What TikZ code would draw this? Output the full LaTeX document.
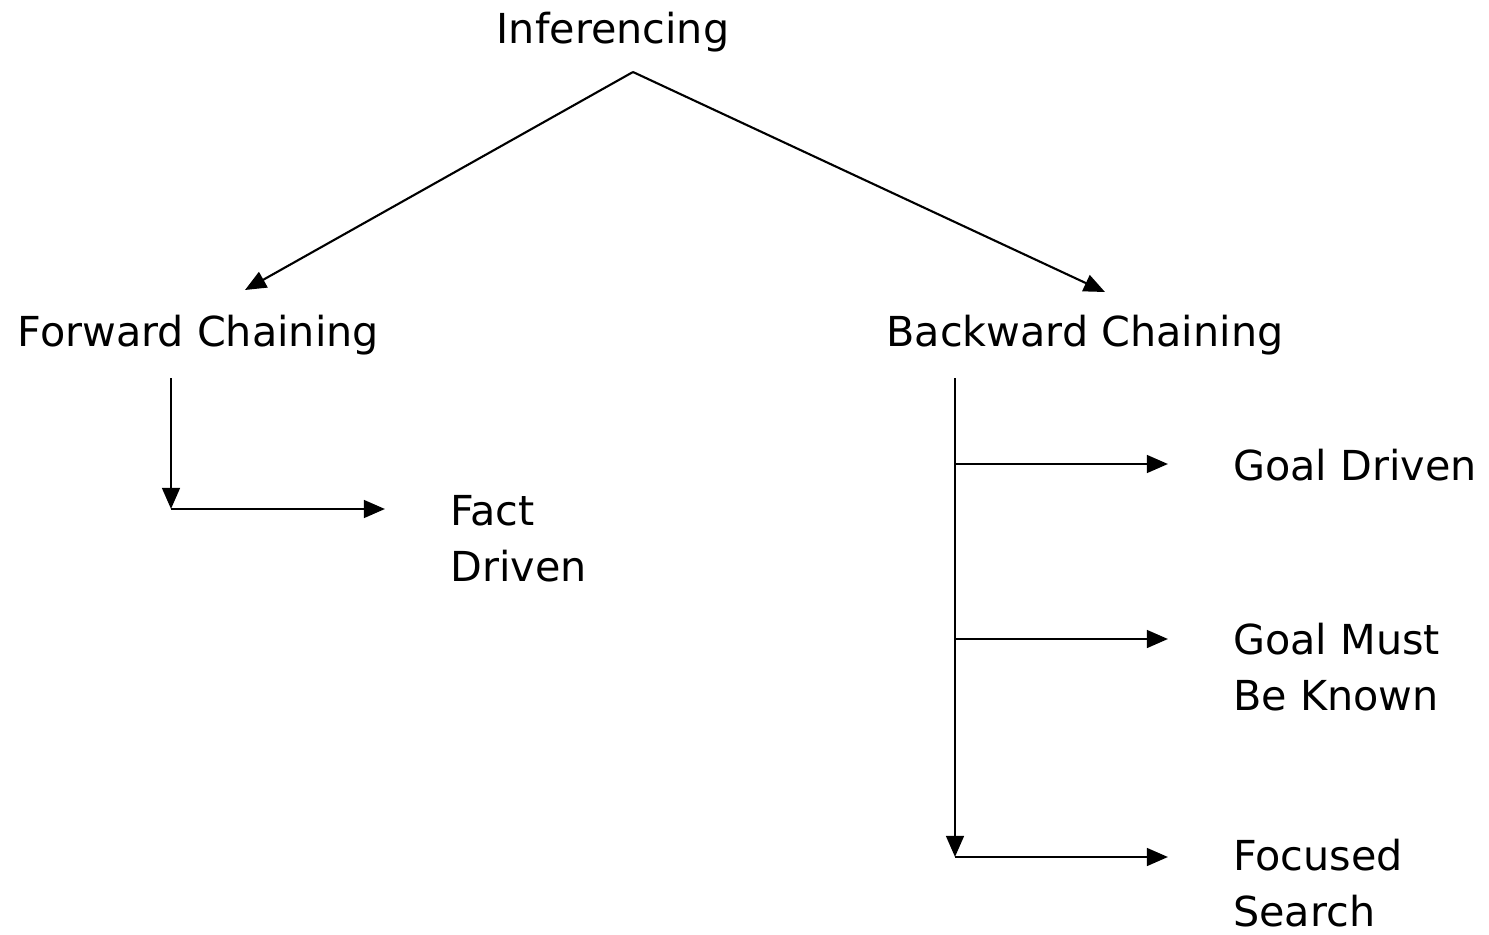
\documentclass[tikz,border=0pt]{standalone}
\usepackage{fontspec}
\setmainfont{DejaVu Sans}
\usetikzlibrary{arrows.meta, positioning}

\begin{document}
\begin{tikzpicture}[
    txt/.style={inner sep=0pt, font=\fontsize{23.5}{32}\selectfont},
    lbl/.style={txt, anchor=west, align=left},
    arr/.style={-{Triangle[length=12pt, width=10pt]}, line width=1.6pt},
    fork/.style={arr, shorten >=1.3cm}]
        \useasboundingbox (0,0) rectangle (29.78,-18.7);
        % Topo
        \node[txt] (inf) at (12.26,-0.64) {Inferencing};
        \node[txt] (fc)  at (3.97,-6.7)   {Forward Chaining};
        \node[txt] (bc)  at (21.7,-6.7)   {Backward Chaining};
        \coordinate (apex) at (12.66,-1.44);
        \coordinate (fcin) at (4.9,-5.8);
        \coordinate (bcin) at (22.1,-5.84);
        \draw[arr, line width=1.2pt] (apex) -- (fcin);
        \draw[arr, line width=1.2pt] (apex) -- (bcin);
        % Forward
        \node[lbl] (fact) at (9.0,-10.77) {Fact\\Driven};
        \coordinate (fcdown) at (3.42,-7.56);
        \coordinate (fcjoin) at (3.42,-10.18);
        \draw[arr]  (fcdown) -- (fcjoin);
        \draw[fork] (fcjoin) -- (fcjoin -| fact.west);
        % Backward
        \node[lbl] (goal)  at (24.66,-9.3)   {Goal Driven};
        \node[lbl] (known) at (24.66,-13.34) {Goal Must\\Be Known};
        \node[lbl] (focus) at (24.66,-17.66) {Focused\\Search};
        \coordinate (bcdown) at (19.1,-7.56);
        \coordinate (bc1) at (19.1,-9.28);
        \coordinate (bc2) at (19.1,-12.78);
        \coordinate (bc3) at (19.1,-17.14);
        \draw[arr] (bcdown) -- (bc3);
        \foreach \b/\n in {bc1/goal, bc2/known, bc3/focus}
          \draw[fork] (\b) -- (\b -| \n.west);
      \end{tikzpicture}
\end{document}
